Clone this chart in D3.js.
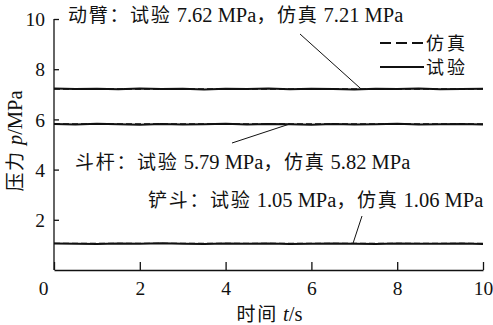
<!DOCTYPE html>
<html>
<head>
<meta charset="utf-8">
<script src="https://cdn.jsdelivr.net/npm/d3@7"></script>
<style>
  html, body { margin: 0; padding: 0; background: #fff; }
  svg { display: block; }
  text { font-family: "Liberation Serif", serif; fill: #111; }
  .cjk { font-family: "Noto Sans CJK SC", sans-serif; }
</style>
</head>
<body>
<svg id="chart" width="493" height="325"></svg>
<script>
// Sampling instants (s)
const times = [0,0.5,1,1.5,2,2.5,3,3.5,4,4.5,5,5.5,6,6.5,7,7.5,8,8.5,9,9.5,10];

// Boom (动臂) pressure, MPa
const boomTest = [7.23,7.21,7.22,7.20,7.23,7.21,7.22,7.19,7.22,7.21,7.23,7.20,7.22,7.21,7.19,7.22,7.21,7.23,7.20,7.21,7.22];
const boomSim  = [7.21,7.21,7.21,7.21,7.21,7.21,7.21,7.21,7.21,7.21,7.21,7.21,7.21,7.21,7.21,7.21,7.21,7.21,7.21,7.21,7.21];

// Stick (斗杆) pressure, MPa
const stickTest = [5.82,5.80,5.83,5.81,5.79,5.82,5.80,5.81,5.83,5.80,5.82,5.81,5.79,5.82,5.80,5.81,5.83,5.80,5.81,5.82,5.80];
const stickSim  = [5.82,5.82,5.82,5.82,5.82,5.82,5.82,5.82,5.82,5.82,5.82,5.82,5.82,5.82,5.82,5.82,5.82,5.82,5.82,5.82,5.82];

// Bucket (铲斗) pressure, MPa
const bucketTest = [1.06,1.05,1.04,1.06,1.05,1.07,1.05,1.04,1.06,1.05,1.06,1.04,1.05,1.06,1.05,1.04,1.06,1.05,1.05,1.06,1.04];
const bucketSim  = [1.06,1.06,1.06,1.06,1.06,1.06,1.06,1.06,1.06,1.06,1.06,1.06,1.06,1.06,1.06,1.06,1.06,1.06,1.06,1.06,1.06];

const xTicks = [0,2,4,6,8,10];
const yTicks = [2,4,6,8,10];

// Annotation texts and where their leader lines touch the curves
const notes = [
  { text: "动臂：试验 7.62 MPa，仿真 7.21 MPa", x: 68,  y: 22,  from: [300, 34], t: 7.16, v: 7.21 },
  { text: "斗杆：试验 5.79 MPa，仿真 5.82 MPa", x: 75,  y: 169, from: [232, 143], t: 5.5, v: 5.82 },
  { text: "铲斗：试验 1.05 MPa，仿真 1.06 MPa", x: 148, y: 207, from: [362, 216], t: 6.97, v: 1.06 }
];

const svg = d3.select("#chart");
const mLeft = 54, mRight = 483, mTop = 19, mBottom = 270;

const x = d3.scaleLinear().domain([0, 10]).range([mLeft, mRight]);
const y = d3.scaleLinear().domain([0, 10]).range([mBottom, mTop]);

// Writes mixed Chinese / Latin text: Chinese runs in a CJK face, the rest in a serif face.
// Single-letter quantity symbols (t, p) are set in italics.
const CJK = /[\u3000-\u9fff\uff00-\uffef]/;
function mixedText(sel, str) {
  const parts = [];
  str.match(/[\u3000-\u9fff\uff00-\uffef]+|[^\u3000-\u9fff\uff00-\uffef]+/g).forEach(r => {
    if (CJK.test(r)) { parts.push({ s: r, cjk: true }); return; }
    const m = r.match(/^(\s*)([a-z])(\/.*)$/);
    if (m) {
      if (m[1]) parts.push({ s: m[1] });
      parts.push({ s: m[2], it: true });
      parts.push({ s: m[3] });
    } else parts.push({ s: r });
  });
  parts.forEach(p => {
    const ts = sel.append("tspan").text(p.s);
    if (p.cjk) ts.attr("class", "cjk").attr("font-size", 19).attr("letter-spacing", 1.7);
    else ts.attr("font-size", 20.5);
    if (p.it) ts.attr("font-style", "italic");
  });
}

// Axes: ticks point inward
const xAxis = d3.axisBottom(x).tickValues(xTicks).tickSizeInner(-8).tickSizeOuter(0).tickPadding(11);
const yAxis = d3.axisLeft(y).tickValues(yTicks).tickSizeInner(-5).tickSizeOuter(0).tickPadding(9);

const gx = svg.append("g").attr("transform", `translate(0,${mBottom})`).call(xAxis);
const gy = svg.append("g").attr("transform", `translate(${mLeft},0)`).call(yAxis);
[gx, gy].forEach(g => {
  g.select(".domain").attr("stroke", "#111").attr("stroke-width", 1.3);
  g.selectAll(".tick line").attr("stroke", "#111").attr("stroke-width", 1.3);
  g.selectAll(".tick text").attr("font-size", 19.5).attr("fill", "#111")
    .style("font-family", "'Liberation Serif', serif");
});
gy.select(".domain").attr("d", `M0,${y(0)}V${y(10)}`);
gy.selectAll(".tick text").attr("dy", "0.34em");
gx.selectAll(".tick text").attr("dy", "0.71em");
// the origin label sits left of the corner
gx.selectAll(".tick").filter(d => d === 0).select("text").attr("dx", -11);

// Curves
const line = d3.line().x((d, i) => x(times[i])).y(d => y(d));
[boomTest, stickTest, bucketTest].forEach(s => {
  svg.append("path").datum(s).attr("d", line)
    .attr("fill", "none").attr("stroke", "#111").attr("stroke-width", 2);
});
[boomSim, stickSim, bucketSim].forEach(s => {
  svg.append("path").datum(s).attr("d", line)
    .attr("fill", "none").attr("stroke", "#111").attr("stroke-width", 1.4)
    .attr("stroke-dasharray", "6,3");
});

// Annotations with leader lines
notes.forEach(n => {
  const t = svg.append("text").attr("x", n.x).attr("y", n.y);
  mixedText(t, n.text);
  svg.append("line")
    .attr("x1", n.from[0]).attr("y1", n.from[1])
    .attr("x2", x(n.t)).attr("y2", y(n.v))
    .attr("stroke", "#111").attr("stroke-width", 1);
});

// Legend
const legend = [
  { name: "仿真", dash: "11,5", y: 43 },
  { name: "试验", dash: null, y: 67 }
];
legend.forEach(l => {
  svg.append("line").attr("x1", 380).attr("x2", 424).attr("y1", l.y).attr("y2", l.y)
    .attr("stroke", "#111").attr("stroke-width", 1.8)
    .attr("stroke-dasharray", l.dash);
  svg.append("text").attr("x", 426).attr("y", l.y).attr("dy", "0.38em")
    .attr("class", "cjk").attr("font-size", 18).attr("letter-spacing", 3).text(l.name);
});

// Axis titles
const xt = svg.append("text").attr("x", (mLeft + mRight) / 2 + 1).attr("y", 321)
  .attr("text-anchor", "middle");
mixedText(xt, "时间 t/s");
const yt = svg.append("text").attr("transform", "translate(22,141) rotate(-90)")
  .attr("text-anchor", "middle");
mixedText(yt, "压力 p/MPa");
</script>
</body>
</html>
